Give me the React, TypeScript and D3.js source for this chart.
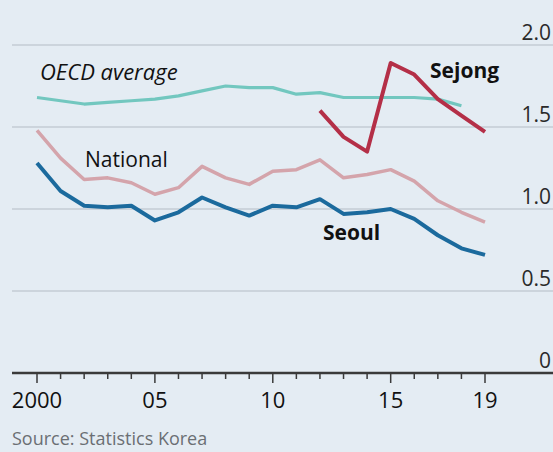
import { useMemo } from "react";
import { scaleLinear, line } from "d3";

const years = [
  2000, 2001, 2002, 2003, 2004, 2005, 2006, 2007, 2008, 2009,
  2010, 2011, 2012, 2013, 2014, 2015, 2016, 2017, 2018, 2019,
];
const oecd = [
  1.68, 1.66, 1.64, 1.65, 1.66, 1.67, 1.69, 1.72, 1.75, 1.74,
  1.74, 1.7, 1.71, 1.68, 1.68, 1.68, 1.68, 1.67, 1.63,
];
const national = [
  1.48, 1.31, 1.18, 1.19, 1.16, 1.09, 1.13, 1.26, 1.19, 1.15,
  1.23, 1.24, 1.3, 1.19, 1.21, 1.24, 1.17, 1.05, 0.98, 0.92,
];
const seoul = [
  1.28, 1.11, 1.02, 1.01, 1.02, 0.93, 0.98, 1.07, 1.01, 0.96,
  1.02, 1.01, 1.06, 0.97, 0.98, 1.0, 0.94, 0.84, 0.76, 0.72,
];
const sejongYears = [2012, 2013, 2014, 2015, 2016, 2017, 2018, 2019];
const sejong = [1.6, 1.44, 1.35, 1.89, 1.82, 1.67, 1.57, 1.47];

const yTicks = [0, 0.5, 1, 1.5, 2];
const yTickLabels = ["0", "0.5", "1.0", "1.5", "2.0"];
const xMajor = [2000, 2005, 2010, 2015, 2019];
const xMajorLabels = ["2000", "05", "10", "15", "19"];

const width = 553;
const height = 452;
const font = "'Open Sans', 'Noto Sans', sans-serif";

export default function App() {
  const x = scaleLinear().domain([2000, 2019]).range([37, 485]);
  const y = scaleLinear().domain([0, 2]).range([373, 45]);

  const mk = line<[number, number]>()
    .x((d) => x(d[0]))
    .y((d) => y(d[1]));

  const paths = useMemo(
    () => ({
      oecd: mk(oecd.map((v, i) => [years[i], v])),
      national: mk(national.map((v, i) => [years[i], v])),
      seoul: mk(seoul.map((v, i) => [years[i], v])),
      sejong: mk(sejong.map((v, i) => [sejongYears[i], v])),
    }),
    []
  );

  return (
    <svg
      width={width}
      height={height}
      style={{ position: "absolute", left: 0, top: 0, fontFamily: font }}
    >
      <rect width={width} height={height} fill="#e4ecf3" />

      {/* gridlines + y labels */}
      {yTicks.map((t, i) => (
        <g key={t}>
          {t > 0 && (
            <line x1={12} x2={width} y1={y(t)} y2={y(t)} stroke="#c5cdd4" strokeWidth={1.5} />
          )}
          <text x={551} y={y(t) - 5} textAnchor="end" fontSize={21} fill="#2a2a2a">
            {yTickLabels[i]}
          </text>
        </g>
      ))}

      {/* lines */}
      <path d={paths.oecd!} fill="none" stroke="#72c7bf" strokeWidth={3.2} strokeLinejoin="round" />
      <path d={paths.national!} fill="none" stroke="#d4a4ab" strokeWidth={3.5} strokeLinejoin="round" />
      <path d={paths.seoul!} fill="none" stroke="#1b6a9d" strokeWidth={4} strokeLinejoin="round" />
      <path d={paths.sejong!} fill="none" stroke="#b42f47" strokeWidth={4} strokeLinejoin="round" />

      {/* x axis */}
      <line x1={12} x2={width} y1={y(0)} y2={y(0)} stroke="#3a3a3a" strokeWidth={2.5} />
      {years.map((yr) => (
        <line
          key={yr}
          x1={x(yr)}
          x2={x(yr)}
          y1={y(0)}
          y2={y(0) + (xMajor.includes(yr) ? 10 : 6)}
          stroke="#3a3a3a"
          strokeWidth={1.5}
        />
      ))}
      {xMajor.map((yr, i) => (
        <text key={yr} x={x(yr)} y={408} textAnchor="middle" fontSize={22} fill="#111">
          {xMajorLabels[i]}
        </text>
      ))}

      {/* series labels */}
      <text x={40} y={80} fontSize={22} fontStyle="italic" fill="#111">
        OECD average
      </text>
      <text x={85} y={167} fontSize={21} fill="#111">
        National
      </text>
      <text x={430} y={78} fontSize={21} fontWeight={700} fill="#111">
        Sejong
      </text>
      <text x={323} y={240} fontSize={21} fontWeight={700} fill="#111">
        Seoul
      </text>

      <text x={12} y={445} fontSize={18} fill="#6b6f73">
        Source: Statistics Korea
      </text>
    </svg>
  );
}
